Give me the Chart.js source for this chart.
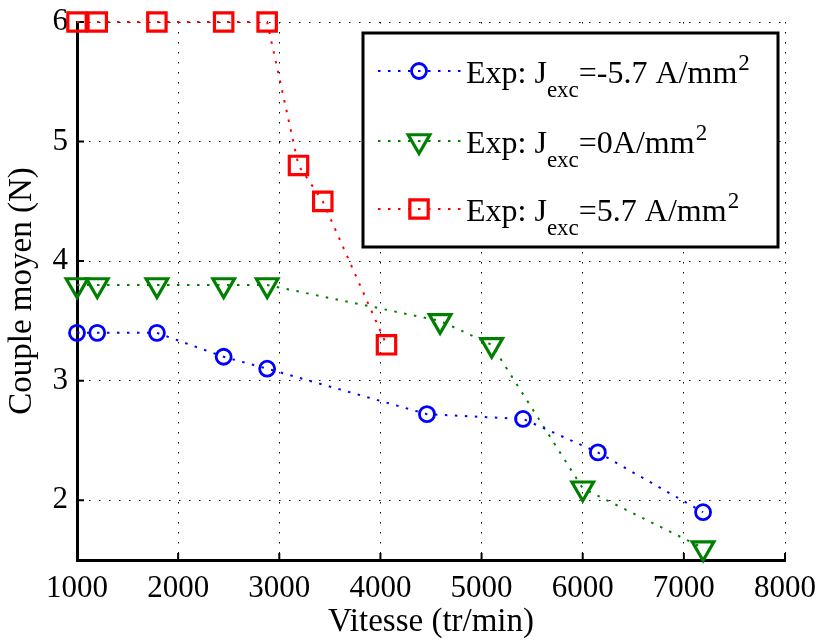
<!DOCTYPE html>
<html>
<head>
<meta charset="utf-8">
<script src="https://cdn.jsdelivr.net/npm/chart.js@4.4.0/dist/chart.umd.min.js"></script>
<style>
    html, body { margin: 0; padding: 0; background: #fff; }
    #wrap { width: 820px; height: 644px; }
</style>
</head>
<body>
<div id="wrap"><canvas id="torqueChart" width="820" height="644"></canvas></div>
<script>
// =====================================
// Data
// =====================================
const speedNeg = [1000, 1200, 1790, 2450, 2880, 4460, 5410, 6150, 7190];
const torqueNeg = [3.4, 3.4, 3.4, 3.2, 3.1, 2.72, 2.68, 2.4, 1.9];

const speedZero = [1000, 1200, 1790, 2450, 2880, 4590, 5100, 6000, 7190];
const torqueZero = [3.8, 3.8, 3.8, 3.8, 3.8, 3.5, 3.3, 2.1, 1.6];

const speedPos = [1000, 1200, 1790, 2450, 2880, 3190, 3430, 4060];
const torquePos = [6, 6, 6, 6, 6, 4.8, 4.5, 3.3];

const xTicks = [1000, 2000, 3000, 4000, 5000, 6000, 7000, 8000];
const yTicks = [2, 3, 4, 5, 6];

// legend text pieces: main text, subscript, rest, superscript
const legendParts = [
    ["Exp: J", "exc", "=-5.7 A/mm", "2"],
    ["Exp: J", "exc", "=0A/mm", "2"],
    ["Exp: J", "exc", "=5.7 A/mm", "2"]
];

const SERIF = '"Liberation Serif", "Times New Roman", serif';

function toPoints(xs, ys) {
    return xs.map((x, i) => ({ x: x, y: ys[i] }));
}

// =====================================
// Inward tick marks (MATLAB style)
// =====================================
const innerTicks = {
    id: "innerTicks",
    beforeDatasetsDraw(chart) {
        const ctx = chart.ctx;
        const xs = chart.scales.x, ys = chart.scales.y;
        const area = chart.chartArea;
        ctx.save();
        ctx.strokeStyle = "#000";
        ctx.lineWidth = 2;
        ctx.beginPath();
        xTicks.forEach(v => {
            const px = xs.getPixelForValue(v);
            ctx.moveTo(px, area.bottom);
            ctx.lineTo(px, area.bottom - 7);
        });
        yTicks.forEach(v => {
            const py = ys.getPixelForValue(v);
            ctx.moveTo(area.left, py);
            ctx.lineTo(area.left + 7, py);
        });
        ctx.stroke();
        ctx.restore();
    }
};

// =====================================
// Boxed legend with sub/superscripts
// =====================================
const boxLegend = {
    id: "boxLegend",
    afterDraw(chart) {
        const ctx = chart.ctx;
        const box = { left: 363, top: 33, right: 778, bottom: 247 };
        const rowsY = [71, 141, 209];

        ctx.save();
        ctx.fillStyle = "#fff";
        ctx.fillRect(box.left, box.top, box.right - box.left, box.bottom - box.top);
        ctx.strokeStyle = "#000";
        ctx.lineWidth = 3;
        ctx.strokeRect(box.left, box.top, box.right - box.left, box.bottom - box.top);

        chart.data.datasets.forEach((ds, i) => {
            const y = rowsY[i];
            // line sample
            ctx.save();
            ctx.strokeStyle = ds.borderColor;
            ctx.lineWidth = ds.borderWidth;
            ctx.setLineDash(ds.borderDash);
            ctx.beginPath();
            ctx.moveTo(378, y);
            ctx.lineTo(462, y);
            ctx.stroke();
            ctx.restore();

            // marker sample
            ctx.save();
            ctx.strokeStyle = ds.borderColor;
            ctx.fillStyle = "rgba(0,0,0,0)";
            ctx.lineWidth = ds.pointBorderWidth;
            Chart.helpers.drawPoint(ctx, {
                pointStyle: ds.pointStyle,
                rotation: ds.pointRotation || 0,
                radius: ds.pointRadius,
                borderWidth: ds.pointBorderWidth
            }, 419, y);
            ctx.restore();

            // text with subscript and superscript
            const [main, sub, rest, sup] = legendParts[i];
            const base = y + 12;
            let x = 466;
            ctx.fillStyle = "#000";
            ctx.textBaseline = "alphabetic";
            ctx.textAlign = "left";
            ctx.font = "32px " + SERIF;
            ctx.fillText(main, x, base);
            x += ctx.measureText(main).width;
            ctx.font = "23px " + SERIF;
            ctx.fillText(sub, x, base + 14);
            x += ctx.measureText(sub).width;
            ctx.font = "32px " + SERIF;
            ctx.fillText(rest, x, base);
            x += ctx.measureText(rest).width;
            ctx.font = "23px " + SERIF;
            ctx.fillText(sup, x + 1, base - 13);
        });
        ctx.restore();
    }
};

// =====================================
// Chart
// =====================================
const ctx = document.getElementById("torqueChart").getContext("2d");
new Chart(ctx, {
    type: "scatter",
    data: {
        datasets: [
            {
                label: "Exp: Jexc=-5.7 A/mm2",
                data: toPoints(speedNeg, torqueNeg),
                showLine: true,
                borderColor: "#0000ff",
                borderWidth: 2,
                borderDash: [2.5, 7.5],
                pointStyle: "circle",
                pointRadius: 7.5,
                pointBorderWidth: 2.8,
                pointBorderColor: "#0000ff",
                pointBackgroundColor: "rgba(0,0,0,0)",
                clip: false
            },
            {
                label: "Exp: Jexc=0A/mm2",
                data: toPoints(speedZero, torqueZero),
                showLine: true,
                borderColor: "#008000",
                borderWidth: 2,
                borderDash: [2.5, 7.5],
                pointStyle: "triangle",
                pointRotation: 180,
                pointRadius: 12.5,
                pointBorderWidth: 3.2,
                pointBorderColor: "#008000",
                pointBackgroundColor: "rgba(0,0,0,0)",
                clip: false
            },
            {
                label: "Exp: Jexc=5.7 A/mm2",
                data: toPoints(speedPos, torquePos),
                showLine: true,
                borderColor: "#ff0000",
                borderWidth: 2,
                borderDash: [2.5, 7.5],
                pointStyle: "rect",
                pointRadius: 13,
                pointBorderWidth: 3.2,
                pointBorderColor: "#ff0000",
                pointBackgroundColor: "rgba(0,0,0,0)",
                clip: false
            }
        ]
    },
    options: {
        responsive: false,
        animation: false,
        layout: { padding: { top: 22, right: 35, left: 0, bottom: 0 } },
        plugins: {
            legend: { display: false },
            tooltip: { enabled: false }
        },
        scales: {
            x: {
                type: "linear",
                min: 1000,
                max: 8000,
                afterBuildTicks: s => { s.ticks = xTicks.map(v => ({ value: v })); },
                afterFit: s => { s.height = 84; s.paddingLeft = 0; s.paddingRight = 0; },
                grid: { color: "#000", lineWidth: 1, drawTicks: false },
                border: { display: true, color: "#000", width: 3, dash: [1.5, 8.5] },
                ticks: {
                    color: "#000",
                    padding: 10,
                    maxRotation: 0,
                    font: { family: SERIF, size: 31 },
                    callback: v => String(v)
                },
                title: {
                    display: true,
                    text: "Vitesse (tr/min)",
                    color: "#000",
                    font: { family: SERIF, size: 33 },
                    padding: { top: 0, bottom: 2 }
                }
            },
            y: {
                min: 1.5,
                max: 6,
                afterBuildTicks: s => { s.ticks = yTicks.map(v => ({ value: v })); },
                afterFit: s => { s.width = 77; s.paddingTop = 0; s.paddingBottom = 0; },
                grid: { color: "#000", lineWidth: 1, drawTicks: false },
                border: { display: true, color: "#000", width: 3, dash: [1.5, 8.5] },
                ticks: {
                    color: "#000",
                    padding: 9,
                    font: { family: SERIF, size: 31 },
                    callback: v => String(v)
                },
                title: {
                    display: true,
                    text: "Couple moyen (N)",
                    color: "#000",
                    font: { family: SERIF, size: 33 },
                    padding: { top: 3, bottom: 0 }
                }
            }
        }
    },
    plugins: [innerTicks, boxLegend]
});
</script>
</body>
</html>
